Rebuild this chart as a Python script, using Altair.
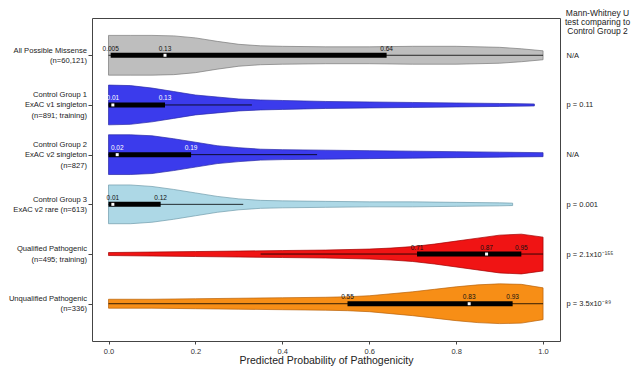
import json
import altair as alt
import pandas as pd

# ---------------- data ----------------
groups = ["All Possible Missense", "Control Group 1", "Control Group 2",
          "Control Group 3", "Qualified Pathogenic", "Unqualified Pathogenic"]
row_labels = [["All Possible Missense", "(n=60,121)"],
              ["Control Group 1", "ExAC v1 singleton", "(n=891; training)"],
              ["Control Group 2", "ExAC v2 singleton", "(n=827)"],
              ["Control Group 3", "ExAC v2 rare (n=613)"],
              ["Qualified Pathogenic", "(n=495; training)"],
              ["Unqualified Pathogenic", "(n=336)"]]
p_values = ["N/A", "p = 0.11", "N/A", "p = 0.001",
            "p = 2.1x10\u207b\u00b9\u2075\u2075", "p = 3.5x10\u207b\u2078\u2079"]
header = ["Mann-Whitney U", "test comparing to", "Control Group 2"]
x_ticks = [0, 0.2, 0.4, 0.6, 0.8, 1.0]
x_title = "Predicted Probability of Pathogenicity"

# violin density profiles (relative density)
dens_x = {
    0: [0, 0.05, 0.1, 0.15, 0.2, 0.25, 0.3, 0.35, 0.4, 0.5, 0.6, 0.7, 0.8, 0.9, 0.95, 1.0],
    1: [0, 0.05, 0.1, 0.15, 0.2, 0.25, 0.3, 0.35, 0.4, 0.5, 0.6, 0.7, 0.8, 0.9, 0.98],
    2: [0, 0.05, 0.1, 0.15, 0.2, 0.25, 0.3, 0.35, 0.4, 0.5, 0.6, 0.7, 0.8, 0.9, 1.0],
    3: [0, 0.05, 0.1, 0.15, 0.2, 0.25, 0.3, 0.35, 0.4, 0.5, 0.6, 0.7, 0.8, 0.9, 0.93],
    4: [0, 0.1, 0.2, 0.3, 0.4, 0.5, 0.6, 0.65, 0.7, 0.75, 0.8, 0.85, 0.9, 0.95, 1.0],
    5: [0, 0.1, 0.2, 0.3, 0.4, 0.5, 0.55, 0.6, 0.65, 0.7, 0.75, 0.8, 0.85, 0.9, 0.95, 1.0],
}
dens_w = {
    0: [20, 20, 20, 19.5, 17.5, 14, 11, 9.5, 9, 8.5, 8.5, 9, 9, 8, 6.5, 4.5],
    1: [20, 19.5, 17, 13.5, 10, 8, 6, 5, 4.5, 3.5, 3, 2.5, 2, 1.5, 1],
    2: [20, 20, 19, 16, 12.5, 9, 7, 5.5, 5, 4.5, 4, 3.5, 3, 2.5, 2],
    3: [19.5, 19.5, 18, 15, 11.5, 8, 5.5, 4, 3.5, 3, 2.5, 2.5, 2, 1.5, 1.2],
    4: [1.5, 2, 2.5, 3, 3.5, 4, 5, 6, 7.5, 10, 13, 16, 19, 20, 17],
    5: [4.5, 4.5, 5, 5.5, 6, 6.5, 7, 8, 10, 12, 14.5, 17, 19, 20, 19.5, 16],
}
dens_max = 20.0

# box statistics
q1 = [0.005, 0.0, 0.0, 0.0, 0.71, 0.55]
median = [0.13, 0.01, 0.02, 0.01, 0.87, 0.83]
q3 = [0.64, 0.13, 0.19, 0.12, 0.95, 0.93]
whisk_lo = [0.0, 0.0, 0.0, 0.0, 0.35, 0.0]
whisk_hi = [1.0, 0.33, 0.48, 0.31, 1.0, 1.0]

# value labels
lab_rows = [0, 0, 0, 1, 1, 2, 2, 3, 3, 4, 4, 4, 5, 5, 5]
lab_vals = [0.005, 0.13, 0.64, 0.01, 0.13, 0.02, 0.19, 0.01, 0.12,
            0.71, 0.87, 0.95, 0.55, 0.83, 0.93]
lab_text = ["0.005", "0.13", "0.64", "0.01", "0.13", "0.02", "0.19", "0.01", "0.12",
            "0.71", "0.87", "0.95", "0.55", "0.83", "0.93"]

# styles
fills = ["#BEBEBE", "#3B3BEC", "#3B3BEC", "#ADD8E6", "#F01414", "#F78E16"]
strokes = ["#7A7A7A", "#2A2AA8", "#2A2AA8", "#6F9BAA", "#A00000", "#B8620A"]
text_colors = ["#111111", "#FFFFFF", "#FFFFFF", "#111111", "#111111", "#111111"]
half_width = 0.40  # row units for maximum density

W, H = 468, 323
Y_DOMAIN = [-0.75, 5.75]
ROW_PX = H / (Y_DOMAIN[1] - Y_DOMAIN[0])
LINE_H = 10.5  # px between label lines

# ---------------- tables ----------------
vrows = []
for i, g in enumerate(groups):
    for x, w in zip(dens_x[i], dens_w[i]):
        d = w / dens_max * half_width
        vrows.append({"group": g, "row": i, "x": x, "top": i - d, "bottom": i + d})
violins = pd.DataFrame(vrows)

box = pd.DataFrame({"group": groups, "row": list(range(len(groups))), "q1": q1,
                    "median": median, "q3": q3, "lo": whisk_lo, "hi": whisk_hi})
labels = pd.DataFrame({"row": lab_rows, "val": lab_vals, "text": lab_text,
                       "tcolor": [text_colors[r] for r in lab_rows]})

lrows = []
for i, lines in enumerate(row_labels):
    n = len(lines)
    for j, s in enumerate(lines):
        lrows.append({"ypos": i + (j - (n - 1) / 2) * LINE_H / ROW_PX, "text": s})
left_labels = pd.DataFrame(lrows)

# ---------------- scales / axes ----------------
xscale = alt.Scale(domain=[-0.038, 1.039], nice=False, zero=False)
yscale = alt.Scale(domain=Y_DOMAIN, reverse=True, nice=False, zero=False)


def xaxis():
    return alt.Axis(values=x_ticks, format=".1f", tickSize=3,
                    labelFontSize=7.5, labelPadding=3, labelColor="#333333",
                    tickColor="#444444", domain=False, grid=False, labelFlush=False,
                    title=x_title, titleFontSize=10.5, titleFontWeight="normal",
                    titlePadding=1, titleColor="#222222")


left_axis = alt.Axis(values=list(range(6)), labels=False, orient="left", tickSize=4,
                     tickColor="#444444", domain=False, grid=False, title=None)

right_axis = alt.Axis(values=list(range(6)),
                      labelExpr=json.dumps(p_values, ensure_ascii=False) + "[datum.value]",
                      orient="right", ticks=False, labelPadding=6, labelFontSize=7.5,
                      labelColor="#222222", domain=False, grid=False, labelOverlap=False,
                      labelFlush=False, title=header, titleAngle=0, titleAlign="center",
                      titleBaseline="top", titleX=37, titleY=-10, titleFontSize=8.5,
                      titleFontWeight="normal", titleColor="#222222", titleLineHeight=9.2)

# ---------------- layers ----------------
violin = alt.Chart(violins).mark_area(strokeWidth=0.7, opacity=1).encode(
    x=alt.X("x:Q", scale=xscale, axis=xaxis()),
    y=alt.Y("top:Q", scale=yscale, axis=None, stack=None),
    y2="bottom:Q",
    color=alt.Color("group:N", scale=alt.Scale(domain=groups, range=fills), legend=None),
    stroke=alt.Stroke("group:N", scale=alt.Scale(domain=groups, range=strokes), legend=None),
    detail="group:N",
)

whisker = alt.Chart(box).mark_rule(color="#000000", strokeWidth=0.8).encode(
    x=alt.X("lo:Q", scale=xscale, axis=xaxis()),
    x2="hi:Q",
    y=alt.Y("row:Q", scale=yscale, axis=left_axis),
)

iqr = alt.Chart(box).mark_rule(color="#000000", strokeWidth=5, strokeCap="butt").encode(
    x=alt.X("q1:Q", scale=xscale, axis=xaxis()),
    x2="q3:Q",
    y=alt.Y("row:Q", scale=yscale, axis=None),
)

med = alt.Chart(box).mark_square(color="#FFFFFF", size=9, opacity=1).encode(
    x=alt.X("median:Q", scale=xscale, axis=xaxis()),
    y=alt.Y("row:Q", scale=yscale, axis=right_axis),
)

txt = alt.Chart(labels).mark_text(fontSize=6.5, baseline="alphabetic", dy=-4.5).encode(
    x=alt.X("val:Q", scale=xscale, axis=xaxis()),
    y=alt.Y("row:Q", scale=yscale, axis=None),
    text="text:N",
    color=alt.Color("tcolor:N", scale=None),
)

rowtxt = alt.Chart(left_labels).mark_text(
    fontSize=7.6, align="right", baseline="middle", dy=0.5, color="#1A1A1A"
).encode(
    x=alt.value(-5),
    y=alt.Y("ypos:Q", scale=yscale, axis=None),
    text="text:N",
)

chart = alt.layer(violin, whisker, iqr, med, txt, rowtxt).resolve_axis(y="independent").properties(
    width=W, height=H,
    padding={"left": 84, "top": 10, "right": 72, "bottom": 26},
    autosize=alt.AutoSizeParams(type="none"),
).configure(font="Liberation Sans").configure_view(stroke="#444444", strokeWidth=1)

chart.save("out.html", embed_options={"renderer": "svg", "actions": False})
